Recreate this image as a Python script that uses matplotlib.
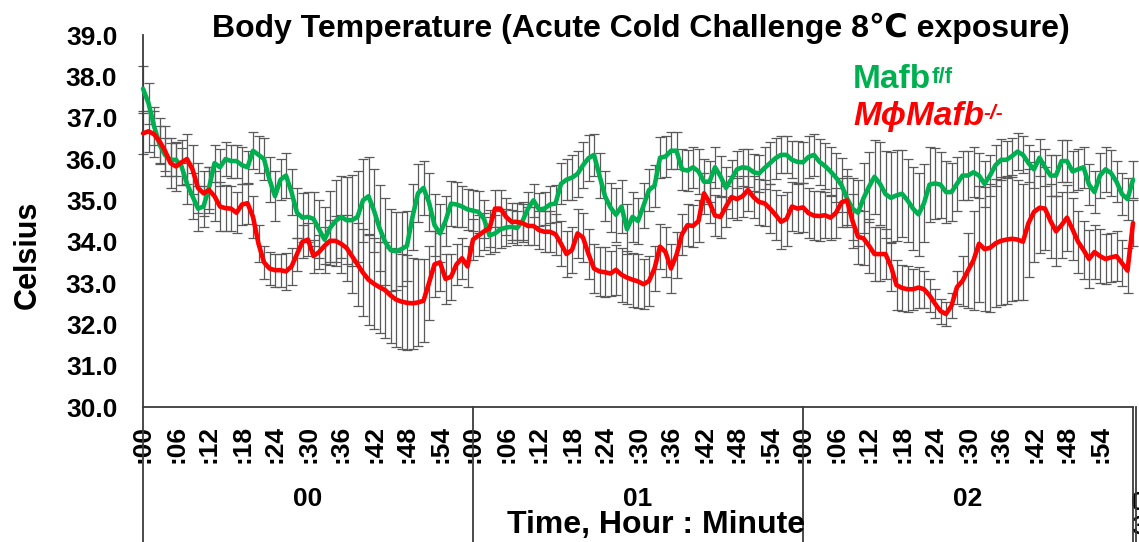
import matplotlib
matplotlib.use("Agg")
import matplotlib.pyplot as plt
import matplotlib.transforms as mtransforms
from matplotlib.lines import Line2D

# ---- data: body temperature (°C), one reading per minute over 3 h ----
minutes = list(range(181))

mafb_ff = [
    37.7, 37.35, 36.8, 36.35, 36.1, 35.98, 35.98, 35.82, 35.4, 35.1,
    34.8, 34.85, 35.3, 35.9, 35.8, 36.0, 35.95, 35.95, 35.85, 35.8,
    36.2, 36.1, 36.0, 35.5, 35.1, 35.5, 35.6, 35.2, 34.7, 34.58,
    34.6, 34.55, 34.3, 34.05, 34.33, 34.5, 34.6, 34.52, 34.52, 34.6,
    35.0, 35.1, 34.75, 34.33, 34.0, 33.8, 33.77, 33.82, 33.9, 34.6,
    35.17, 35.3, 34.95, 34.4, 34.2, 34.5, 34.92, 34.9, 34.85, 34.78,
    34.75, 34.72, 34.55, 34.15, 34.2, 34.3, 34.34, 34.36, 34.33, 34.5,
    34.8, 35.0, 34.78, 34.8, 34.9, 34.92, 35.4, 35.5, 35.55, 35.64,
    35.85, 36.02, 36.1, 35.6, 35.1, 34.83, 34.65, 34.85, 34.3, 34.6,
    34.5, 34.87, 35.25, 35.35, 36.03, 36.06, 36.2, 36.2, 35.75, 35.72,
    35.8, 35.7, 35.45, 35.45, 35.8, 35.58, 35.3, 35.52, 35.75, 35.8,
    35.78, 35.68, 35.65, 35.78, 35.9, 36.02, 36.1, 36.1, 35.98, 35.93,
    35.92, 36.05, 36.1, 35.93, 35.83, 35.7, 35.55, 35.37, 35.05, 34.8,
    34.7, 35.05, 35.33, 35.57, 35.4, 35.15, 35.06, 35.12, 35.16, 35.0,
    34.8, 34.66, 34.93, 35.38, 35.41, 35.38, 35.2, 35.2, 35.4, 35.6,
    35.6, 35.68, 35.6, 35.4, 35.6, 35.85, 35.98, 35.98, 36.07, 36.18,
    36.1, 35.9, 35.75, 36.03, 35.8, 35.6, 35.6, 35.95, 35.95, 35.7,
    35.75, 35.8, 35.38, 35.2, 35.6, 35.75, 35.66, 35.45, 35.15, 35.03,
    35.5,
]

mafb_ff_sem = [
    0.55, 0.5, 0.45, 0.45, 0.4, 0.4, 0.4, 0.45, 0.5, 0.55,
    0.55, 0.5, 0.5, 0.45, 0.45, 0.4, 0.4, 0.4, 0.45, 0.4,
    0.45, 0.45, 0.5, 0.55, 0.6, 0.5, 0.55, 0.55, 0.6, 0.6,
    0.6, 0.65, 0.7, 0.8, 0.9, 1.0, 1.0, 1.05, 1.1, 1.1,
    1.0, 0.95, 1.0, 1.05, 1.05, 1.0, 0.95, 0.9, 0.85, 0.8,
    0.7, 0.65, 0.7, 0.75, 0.7, 0.6, 0.55, 0.55, 0.5, 0.5,
    0.5, 0.5, 0.45, 0.45, 0.45, 0.45, 0.45, 0.4, 0.4, 0.45,
    0.4, 0.4, 0.4, 0.4, 0.45, 0.45, 0.5, 0.5, 0.55, 0.55,
    0.55, 0.55, 0.5, 0.55, 0.6, 0.6, 0.65, 0.65, 0.6, 0.6,
    0.55, 0.55, 0.5, 0.5, 0.5, 0.5, 0.45, 0.45, 0.5, 0.5,
    0.5, 0.55, 0.55, 0.5, 0.5, 0.5, 0.5, 0.45, 0.45, 0.45,
    0.45, 0.45, 0.45, 0.5, 0.5, 0.5, 0.45, 0.45, 0.45, 0.5,
    0.5, 0.5, 0.5, 0.55, 0.55, 0.6, 0.6, 0.65, 0.7, 0.75,
    0.8, 0.85, 0.85, 0.9, 1.0, 1.05, 1.1, 1.1, 1.05, 1.0,
    1.0, 1.0, 0.95, 0.9, 0.85, 0.8, 0.75, 0.7, 0.65, 0.6,
    0.6, 0.6, 0.55, 0.55, 0.5, 0.5, 0.5, 0.45, 0.45, 0.45,
    0.45, 0.45, 0.45, 0.45, 0.45, 0.5, 0.5, 0.5, 0.5, 0.5,
    0.5, 0.5, 0.5, 0.5, 0.55, 0.55, 0.55, 0.5, 0.5, 0.5,
    0.45,
]

mphi_mafb_ko = [
    36.62, 36.67, 36.6, 36.43, 36.2, 35.9, 35.82, 35.92, 36.0, 35.75,
    35.3, 35.17, 35.25, 35.1, 34.85, 34.81, 34.8, 34.7, 34.9, 34.93,
    34.6, 33.95, 33.5, 33.35, 33.31, 33.31, 33.28, 33.4, 33.7, 34.0,
    34.05, 33.65, 33.75, 33.9, 34.02, 34.02, 33.95, 33.85, 33.65, 33.45,
    33.25, 33.08, 32.98, 32.9, 32.83, 32.7, 32.6, 32.55, 32.52, 32.51,
    32.53, 32.57, 33.0, 33.45, 33.5, 33.1, 33.15, 33.45, 33.6, 33.4,
    34.05, 34.15, 34.25, 34.32, 34.8, 34.8, 34.6, 34.48, 34.48, 34.45,
    34.38, 34.38, 34.28, 34.24, 34.24, 34.18, 33.95, 33.7, 33.8, 34.2,
    34.1, 33.7, 33.35, 33.28, 33.26, 33.23, 33.32, 33.2, 33.13, 33.08,
    33.04, 32.97, 33.05, 33.35, 33.88, 33.75, 33.35, 33.68, 34.18, 34.4,
    34.38, 34.5, 35.17, 34.95, 34.63, 34.6, 34.85, 35.08, 35.03, 35.1,
    35.25, 35.08, 34.96, 34.93, 34.8, 34.65, 34.48, 34.55, 34.85, 34.8,
    34.83, 34.69, 34.63, 34.62, 34.64, 34.58, 34.7, 34.95, 35.0, 34.5,
    34.12, 34.08, 33.9, 33.7, 33.7, 33.7, 33.4, 32.95, 32.88, 32.85,
    32.85, 32.89, 32.85, 32.7, 32.5, 32.32, 32.25, 32.45, 32.9, 33.05,
    33.3, 33.55, 33.95, 33.82, 33.85, 33.96, 34.02, 34.05, 34.07, 34.05,
    34.0, 34.45, 34.72, 34.82, 34.8, 34.5, 34.25, 34.4, 34.58, 34.3,
    34.0, 33.8, 33.58, 33.75, 33.65, 33.58, 33.62, 33.65, 33.48, 33.3,
    34.45,
]

mphi_mafb_ko_sem = [
    0.5, 0.5, 0.55, 0.55, 0.6, 0.6, 0.6, 0.55, 0.6, 0.6,
    0.6, 0.55, 0.55, 0.6, 0.6, 0.55, 0.55, 0.5, 0.5, 0.5,
    0.5, 0.45, 0.4, 0.4, 0.4, 0.4, 0.45, 0.45, 0.4, 0.4,
    0.4, 0.4, 0.4, 0.45, 0.5, 0.6, 0.7, 0.8, 0.9, 1.0,
    1.05, 1.1, 1.1, 1.1, 1.15, 1.15, 1.15, 1.15, 1.15, 1.1,
    1.05, 1.0, 0.9, 0.8, 0.7, 0.6, 0.55, 0.5, 0.5, 0.5,
    0.5, 0.5, 0.45, 0.45, 0.45, 0.45, 0.45, 0.45, 0.45, 0.45,
    0.45, 0.45, 0.45, 0.5, 0.5, 0.5, 0.55, 0.55, 0.55, 0.6,
    0.6, 0.6, 0.6, 0.6, 0.6, 0.55, 0.6, 0.65, 0.65, 0.65,
    0.65, 0.6, 0.6, 0.55, 0.55, 0.6, 0.6, 0.55, 0.5, 0.5,
    0.5, 0.5, 0.5, 0.5, 0.5, 0.5, 0.5, 0.5, 0.5, 0.5,
    0.5, 0.5, 0.55, 0.55, 0.6, 0.6, 0.65, 0.65, 0.6, 0.6,
    0.6, 0.6, 0.6, 0.6, 0.55, 0.55, 0.6, 0.6, 0.6, 0.65,
    0.65, 0.65, 0.65, 0.65, 0.65, 0.6, 0.6, 0.6, 0.55, 0.55,
    0.5, 0.5, 0.45, 0.4, 0.35, 0.3, 0.28, 0.3, 0.4, 0.6,
    0.9, 1.2, 1.4, 1.5, 1.55, 1.55, 1.55, 1.55, 1.5, 1.45,
    1.4, 1.3, 1.2, 1.1, 1.0, 0.9, 0.85, 0.8, 0.8, 0.75,
    0.75, 0.7, 0.7, 0.65, 0.65, 0.6, 0.6, 0.6, 0.55, 0.55,
    0.55,
]

hour_labels = ["00", "01", "02"]
minute_labels = [":00", ":06", ":12", ":18", ":24", ":30", ":36", ":42", ":48", ":54"]
y_ticks = [30, 31, 32, 33, 34, 35, 36, 37, 38, 39]

GREEN = "#00B050"
RED = "#FF0000"
GREY = "#5a5a5a"
AXIS = "#3c3c3c"

plt.rcParams["font.family"] = ["Liberation Sans", "DejaVu Sans"]
plt.rcParams["font.weight"] = "bold"

W, H = 1139, 542
fig = plt.figure(figsize=(W / 100, H / 100), dpi=100)
ax_left, ax_right, ax_top, ax_bottom = 143, 1133, 35, 407
ax = fig.add_axes([ax_left / W, 1 - ax_bottom / H,
                   (ax_right - ax_left) / W, (ax_bottom - ax_top) / H])


def fx(px):
    return px / W


def fy(py):
    return 1 - py / H


# error bars first, then the mean traces on top
for vals, sem in ((mafb_ff, mafb_ff_sem), (mphi_mafb_ko, mphi_mafb_ko_sem)):
    cont = ax.errorbar(minutes, vals, yerr=sem, fmt="none", ecolor=GREY,
                       elinewidth=0.9, capsize=3.5, capthick=0.9, zorder=2)
    for art in cont.get_children():
        art.set_clip_on(False)

ax.plot(minutes, mafb_ff, color=GREEN, lw=3.3, zorder=3, clip_on=False,
        solid_joinstyle="round", solid_capstyle="round")
ax.plot(minutes, mphi_mafb_ko, color=RED, lw=3.3, zorder=4, clip_on=False,
        solid_joinstyle="round", solid_capstyle="round")

ax.set_xlim(0, 180)
ax.set_ylim(30, 39)

ax.set_yticks(y_ticks)
ax.set_yticklabels([f"{v:.1f}" for v in y_ticks], fontsize=19)
ax.tick_params(axis="y", length=0, pad=18.5)

xt = [h * 60 + m for h in range(3) for m in range(0, 60, 6)]
ax.set_xticks(xt)
ax.set_xticklabels(minute_labels * 3, rotation=90, fontsize=19)
ax.tick_params(axis="x", length=0, pad=13)

for side in ("top", "right"):
    ax.spines[side].set_visible(False)
for side in ("left", "bottom"):
    ax.spines[side].set_color(AXIS)
    ax.spines[side].set_linewidth(1.3)

# hour group dividers below the axis
trans = mtransforms.blended_transform_factory(ax.transData, fig.transFigure)
for xv in (0, 60, 120, 180, 180.5):
    fig.add_artist(Line2D([xv, xv], [0, fy(ax_bottom)], transform=trans,
                          color=AXIS, lw=1.3))

for i, lab in enumerate(hour_labels):
    ax.text(i * 60 + 30, fy(499), lab, transform=trans, ha="center",
            va="center", fontsize=19)
ax.text(179.7, fy(491), "0\n3", transform=trans, ha="left", va="top",
        fontsize=19, linespacing=1.0)

fig.text(fx(656), fy(533), "Time, Hour : Minute", ha="center",
         va="baseline", fontsize=23)
fig.text(fx(28), fy(255), "Celsius", rotation=90, ha="center",
         va="center", fontsize=22)
fig.text(fx(641), fy(37), "Body Temperature (Acute Cold Challenge 8\u2103 exposure)",
         ha="center", va="baseline", fontsize=23)

# series labels
t1 = fig.text(fx(853), fy(88), "Mafb", color=GREEN, fontsize=24,
              va="baseline", ha="left")
ax.annotate("f/f", xy=(1, 1), xycoords=t1, xytext=(0.5, -2),
            textcoords="offset points", ha="left", va="top",
            color=GREEN, fontsize=16)
t2 = fig.text(fx(853), fy(125), "M\u03d5Mafb", color=RED, fontsize=24,
              style="italic", va="baseline", ha="left")
ax.annotate("-/-", xy=(1, 1), xycoords=t2, xytext=(0, -2),
            textcoords="offset points", ha="left", va="top",
            color=RED, fontsize=15, style="italic")

fig.savefig("out.png", dpi=100)
